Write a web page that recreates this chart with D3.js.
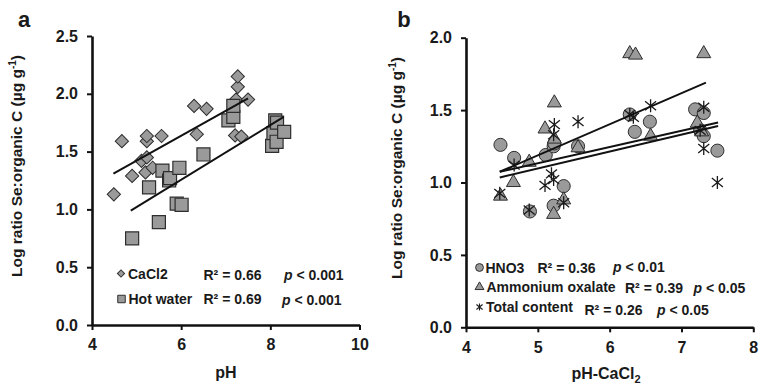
<!DOCTYPE html>
<html>
<head>
<meta charset="utf-8">
<script src="https://cdn.jsdelivr.net/npm/d3@7"></script>
<style>
	body { margin: 0; background: #fff; }
	svg text { font-family: "Liberation Sans", Arial, sans-serif; font-weight: bold; fill: #1a1a1a; }
</style>
</head>
<body>
<svg id="chart" width="770" height="387"></svg>
<script>

// ---- panel a : Se:organic C vs pH ----
const caclPH    = [4.49, 4.67, 4.90, 5.11, 5.20, 5.23, 5.23, 5.23, 5.36, 5.56, 6.29, 6.35, 6.57, 7.21, 7.23, 7.27, 7.27, 7.35, 7.50];
const caclRatio = [1.13, 1.59, 1.29, 1.42, 1.32, 1.45, 1.59, 1.635, 1.36, 1.635, 1.895, 1.65, 1.87, 1.64, 1.95, 2.06, 2.15, 1.63, 1.95];

const hotPH    = [4.90, 5.28, 5.50, 5.58, 5.73, 5.75, 5.90, 5.96, 6.01, 6.50, 7.06, 7.17, 7.17, 8.04, 8.07, 8.11, 8.14, 8.15, 8.31];
const hotRatio = [0.75, 1.19, 0.89, 1.335, 1.25, 1.27, 1.05, 1.36, 1.04, 1.475, 1.77, 1.80, 1.895, 1.55, 1.66, 1.77, 1.585, 1.75, 1.67];

// trend line end points
const caclFitX = [4.48, 7.50], caclFitY = [1.31, 1.96];
const hotFitX  = [4.87, 8.30], hotFitY  = [0.99, 1.80];

const aXTicks = [4, 6, 8, 10];
const aYTicks = [0.0, 0.5, 1.0, 1.5, 2.0, 2.5];

// ---- panel b : Se:organic C vs pH-CaCl2 ----
const hno3PH    = [4.48, 4.67, 4.89, 5.11, 5.22, 5.22, 5.23, 5.36, 5.56, 6.28, 6.35, 6.56, 7.19, 7.26, 7.31, 7.31, 7.50];
const hno3Ratio = [1.26, 1.17, 0.80, 1.19, 0.84, 1.25, 1.27, 0.975, 1.25, 1.47, 1.35, 1.42, 1.505, 1.36, 1.48, 1.32, 1.22];

const oxalatePH    = [4.48, 4.66, 4.88, 5.10, 5.22, 5.23, 5.23, 5.36, 5.56, 6.28, 6.36, 6.57, 7.22, 7.28, 7.31];
const oxalateRatio = [0.906, 1.00, 1.14, 1.37, 0.78, 1.30, 1.55, 0.88, 1.24, 1.89, 1.88, 1.32, 1.41, 1.35, 1.89];

const totalPH    = [4.47, 4.67, 4.88, 5.10, 5.19, 5.22, 5.22, 5.23, 5.36, 5.56, 6.28, 6.33, 6.57, 7.26, 7.31, 7.31, 7.50];
const totalRatio = [0.925, 1.12, 0.81, 0.98, 1.06, 1.02, 1.33, 1.40, 0.86, 1.42, 1.47, 1.45, 1.53, 1.36, 1.52, 1.235, 1.00];

const oxalateFitX = [4.47, 7.34], oxalateFitY = [1.074, 1.69];
const hno3FitX    = [4.47, 7.51], hno3FitY    = [1.074, 1.415];
const totalFitX   = [4.47, 7.51], totalFitY   = [1.035, 1.39];

const bXTicks = [4, 5, 6, 7, 8];
const bYTicks = [0.0, 0.5, 1.0, 1.5, 2.0];

const FILL = '#9a9a9a';
const EDGE = '#2e2e2e';

const svg = d3.select('#chart');

function zip(xs, ys) {
	return xs.map((x, i) => [x, ys[i]]);
}

// Excel-like star: an X with a vertical bar
function starPath(r) {
	const d = r * 0.85;
	return `M0,${-r}V${r}M${-d},${-d * 0.8}L${d},${d * 0.8}M${-d},${d * 0.8}L${d},${-d * 0.8}`;
}

function drawAxes(x, y, xTicks, yTicks, xFormat) {
	const yAxis = d3.axisLeft(y)
		.tickValues(yTicks)
		.tickFormat(d3.format('.1f'))
		.tickSize(5)
		.tickSizeOuter(0)
		.tickPadding(9);

	const xAxis = d3.axisBottom(x)
		.tickValues(xTicks)
		.tickFormat(xFormat)
		.tickSize(5)
		.tickSizeOuter(0)
		.tickPadding(9);

	const gy = svg.append('g')
		.attr('transform', 'translate(' + x.range()[0] + ',0)')
		.call(yAxis);
	const gx = svg.append('g')
		.attr('transform', 'translate(0,' + y.range()[0] + ')')
		.call(xAxis);

	[gx, gy].forEach(g => {
		g.select('.domain').attr('stroke', '#111').attr('stroke-width', 2.6);
		g.selectAll('.tick line').attr('stroke', '#111').attr('stroke-width', 2);
		g.selectAll('.tick text')
			.attr('font-size', 16)
			.attr('font-family', '"Liberation Sans", Arial, sans-serif')
			.attr('font-weight', 'bold')
			.attr('fill', '#1a1a1a');
	});
}

function drawLine(x, y, xs, ys) {
	svg.append('path')
		.datum(zip(xs, ys))
		.attr('fill', 'none')
		.attr('stroke', '#111')
		.attr('stroke-width', 2)
		.attr('d', d3.line().x(d => x(d[0])).y(d => y(d[1])));
}

function yTitle(cx, cy) {
	const t = svg.append('text')
		.attr('transform', 'translate(' + cx + ',' + cy + ') rotate(-90)')
		.attr('text-anchor', 'middle')
		.attr('font-size', 15.5);
	t.append('tspan').text('Log ratio Se:organic C (\u00b5g g');
	t.append('tspan').text('-1').attr('font-size', 10).attr('dy', -6);
	t.append('tspan').text(')').attr('dy', 6);
}

// legend row: marker drawn by caller, then three text pieces
function legendRow(items) {
	items.forEach(it => {
		const t = svg.append('text')
			.attr('x', it.x)
			.attr('y', it.y)
			.attr('font-size', 14)
			.attr('dominant-baseline', 'central');
		if (it.p) {
			t.append('tspan').text('p').attr('font-style', 'italic');
			t.append('tspan').text(' < ' + it.p);
		} else {
			t.text(it.text);
		}
	});
}

// =================== panel a ===================
const xa = d3.scaleLinear().domain([4, 10]).range([92, 359.5]);
const ya = d3.scaleLinear().domain([0, 2.5]).range([325, 36]);

drawAxes(xa, ya, aXTicks, aYTicks, d3.format('d'));

const diamond = d3.symbol().type(d3.symbolSquare).size(88);
svg.append('g').selectAll('path')
	.data(zip(caclPH, caclRatio))
	.enter()
	.append('path')
		.attr('d', diamond)
		.attr('transform', d => 'translate(' + xa(d[0]) + ',' + ya(d[1]) + ') rotate(45)')
		.attr('fill', FILL)
		.attr('stroke', EDGE)
		.attr('stroke-width', 1);

const square = d3.symbol().type(d3.symbolSquare).size(170);
svg.append('g').selectAll('path')
	.data(zip(hotPH, hotRatio))
	.enter()
	.append('path')
		.attr('d', square)
		.attr('transform', d => 'translate(' + xa(d[0]) + ',' + ya(d[1]) + ')')
		.attr('fill', FILL)
		.attr('stroke', EDGE)
		.attr('stroke-width', 1.2);

drawLine(xa, ya, caclFitX, caclFitY);
drawLine(xa, ya, hotFitX, hotFitY);

svg.append('text').attr('x', 24).attr('y', 27).attr('text-anchor', 'middle').attr('font-size', 22).text('a');
yTitle(22, 166);
svg.append('text').attr('x', 226).attr('y', 378).attr('text-anchor', 'middle').attr('font-size', 16).text('pH');

// legend a
svg.append('path').attr('d', d3.symbol().type(d3.symbolSquare).size(26))
	.attr('transform', 'translate(121,273.5) rotate(45)')
	.attr('fill', FILL).attr('stroke', EDGE);
svg.append('path').attr('d', d3.symbol().type(d3.symbolSquare).size(56))
	.attr('transform', 'translate(121.5,299)')
	.attr('fill', FILL).attr('stroke', EDGE);
legendRow([
	{ x: 128, y: 273.5, text: 'CaCl2' },
	{ x: 203.5, y: 274.5, text: 'R\u00b2 = 0.66' },
	{ x: 284, y: 275, p: '0.001' },
	{ x: 128.5, y: 299, text: 'Hot water' },
	{ x: 203.5, y: 299, text: 'R\u00b2 = 0.69' },
	{ x: 282, y: 300, p: '0.001' }
]);

// =================== panel b ===================
const xb = d3.scaleLinear().domain([4, 8]).range([466, 753.3]);
const yb = d3.scaleLinear().domain([0, 2]).range([327.3, 37.7]);

drawAxes(xb, yb, bXTicks, bYTicks, d3.format('d'));

const circle = d3.symbol().type(d3.symbolCircle).size(135);
svg.append('g').selectAll('path')
	.data(zip(hno3PH, hno3Ratio))
	.enter()
	.append('path')
		.attr('d', circle)
		.attr('transform', d => 'translate(' + xb(d[0]) + ',' + yb(d[1]) + ')')
		.attr('fill', FILL)
		.attr('stroke', EDGE)
		.attr('stroke-width', 1);

const triangle = d3.symbol().type(d3.symbolTriangle).size(85);
svg.append('g').selectAll('path')
	.data(zip(oxalatePH, oxalateRatio))
	.enter()
	.append('path')
		.attr('d', triangle)
		.attr('transform', d => 'translate(' + xb(d[0]) + ',' + yb(d[1]) + ')')
		.attr('fill', FILL)
		.attr('stroke', EDGE)
		.attr('stroke-width', 1);

svg.append('g').selectAll('path')
	.data(zip(totalPH, totalRatio))
	.enter()
	.append('path')
		.attr('d', starPath(6.5))
		.attr('transform', d => 'translate(' + xb(d[0]) + ',' + yb(d[1]) + ')')
		.attr('fill', 'none')
		.attr('stroke', '#1a1a1a')
		.attr('stroke-width', 1.3);

drawLine(xb, yb, oxalateFitX, oxalateFitY);
drawLine(xb, yb, hno3FitX, hno3FitY);
drawLine(xb, yb, totalFitX, totalFitY);

svg.append('text').attr('x', 404).attr('y', 27).attr('text-anchor', 'middle').attr('font-size', 22).text('b');
yTitle(402, 168);
const xt = svg.append('text').attr('x', 606).attr('y', 379).attr('text-anchor', 'middle').attr('font-size', 16);
xt.append('tspan').text('pH-CaCl');
xt.append('tspan').text('2').attr('font-size', 11).attr('dy', 4);

// legend b
svg.append('path').attr('d', d3.symbol().type(d3.symbolCircle).size(48))
	.attr('transform', 'translate(479.5,267.5)')
	.attr('fill', FILL).attr('stroke', EDGE);
svg.append('path').attr('d', d3.symbol().type(d3.symbolTriangle).size(34))
	.attr('transform', 'translate(479.5,287)')
	.attr('fill', FILL).attr('stroke', EDGE);
svg.append('path').attr('d', starPath(3.6))
	.attr('transform', 'translate(479.5,307)')
	.attr('fill', 'none').attr('stroke', '#1a1a1a').attr('stroke-width', 1.1);
legendRow([
	{ x: 485.5, y: 267.5, text: 'HNO3' },
	{ x: 537.5, y: 267.5, text: 'R\u00b2 = 0.36' },
	{ x: 613, y: 266.5, p: '0.01' },
	{ x: 486.5, y: 287, text: 'Ammonium oxalate' },
	{ x: 625, y: 287.5, text: 'R\u00b2 = 0.39' },
	{ x: 693.5, y: 287.5, p: '0.05' },
	{ x: 486, y: 306.5, text: 'Total content' },
	{ x: 584.5, y: 309.5, text: 'R\u00b2 = 0.26' },
	{ x: 657, y: 310, p: '0.05' }
]);

</script>
</body>
</html>
